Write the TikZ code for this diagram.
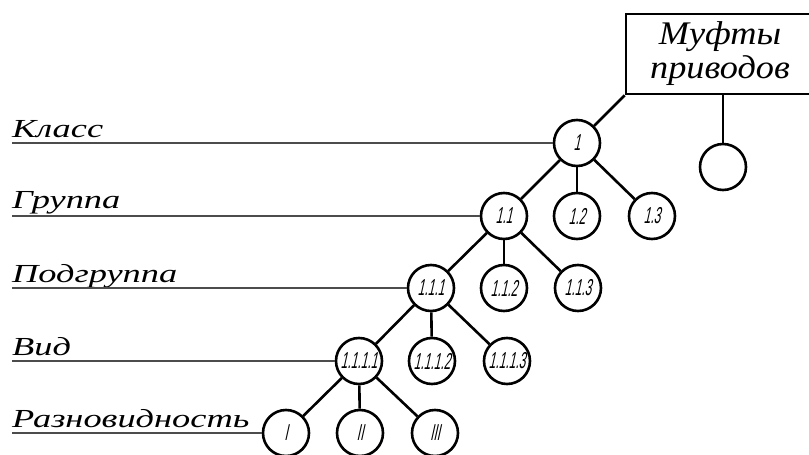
\documentclass[tikz,border=0pt]{standalone}
\usepackage{fontspec}
\setmainfont{Liberation Serif}
\newfontfamily\numfont[FakeStretch=0.52,FakeSlant=0.22]{Liberation Sans}
\newfontfamily\boxfont[FakeStretch=1.1]{Liberation Serif}
\newfontfamily\labfont[FakeStretch=1.4]{Liberation Serif}
\begin{document}
\begin{tikzpicture}[x=1pt,y=-1pt,
  cnode/.style={circle,draw,line width=2.6pt,minimum size=46pt,inner sep=0pt,
    font=\numfont\fontsize{23}{23}\selectfont},
  edge/.style={line width=2.6pt},
  labline/.style={line width=1.1pt,draw=black!70},
  labtext/.style={anchor=base west,inner sep=0pt,font=\labfont\itshape\fontsize{26}{26}\selectfont},
  boxnode/.style={draw,line width=2.6pt,minimum width=188pt,minimum height=80pt,inner sep=0pt,
    align=center,font=\boxfont\itshape\fontsize{33}{34}\selectfont}]
\useasboundingbox (0,0) rectangle (809,455);
% box
\node[boxnode] (box) at (720,54) {Муфты\\приводов};
% tree
\node[cnode] (n1) at (577,143) {1};
\node[cnode] (n11) at (504,216) {1.1};
\node[cnode] (n12) at (577,216) {1.2};
\node[cnode] (n13) at (652,216) {1.3};
\node[cnode] (n111) at (431,288) {1.1.1};
\node[cnode] (n112) at (504,288) {1.1.2};
\node[cnode] (n113) at (578,288) {1.1.3};
\node[cnode] (n1111) at (359,361) {1.1.1.1};
\node[cnode] (n1112) at (432,361) {1.1.1.2};
\node[cnode] (n1113) at (507,361) {1.1.1.3};
\node[cnode] (nI) at (286,433) {I};
\node[cnode] (nII) at (360,433) {II};
\node[cnode] (nIII) at (435,433) {III};
\node[cnode] (e) at (723,167) {};
% connectors
\draw[edge] (box.south west) -- (n1);
\draw[edge] (e) -- (e |- box.south);
\draw[edge] (n1) -- (n11);
\draw[edge] (n1) -- (n12);
\draw[edge] (n1) -- (n13);
\draw[edge] (n11) -- (n111);
\draw[edge] (n11) -- (n112);
\draw[edge] (n11) -- (n113);
\draw[edge] (n111) -- (n1111);
\draw[edge] (n111) -- (n1112);
\draw[edge] (n111) -- (n1113);
\draw[edge] (n1111) -- (nI);
\draw[edge] (n1111) -- (nII);
\draw[edge] (n1111) -- (nIII);
% level labels
\coordinate (s1) at (12,143);
\coordinate (s2) at (12,216);
\coordinate (s3) at (12,288);
\coordinate (s4) at (12,361);
\coordinate (s5) at (12,433);
\node[labtext] (t1) at (12,137) {Класс};
\node[labtext] (t2) at (12,208) {Группа};
\node[labtext] (t3) at (12,282) {Подгруппа};
\node[labtext] (t4) at (12,355) {Вид};
\node[labtext] (t5) at (12,427) {Разновидность};
\draw[labline] (s1) -- (n1.west);
\draw[labline] (s2) -- (n11.west);
\draw[labline] (s3) -- (n111.west);
\draw[labline] (s4) -- (n1111.west);
\draw[labline] (s5) -- (nI.west);
\end{tikzpicture}
\end{document}
